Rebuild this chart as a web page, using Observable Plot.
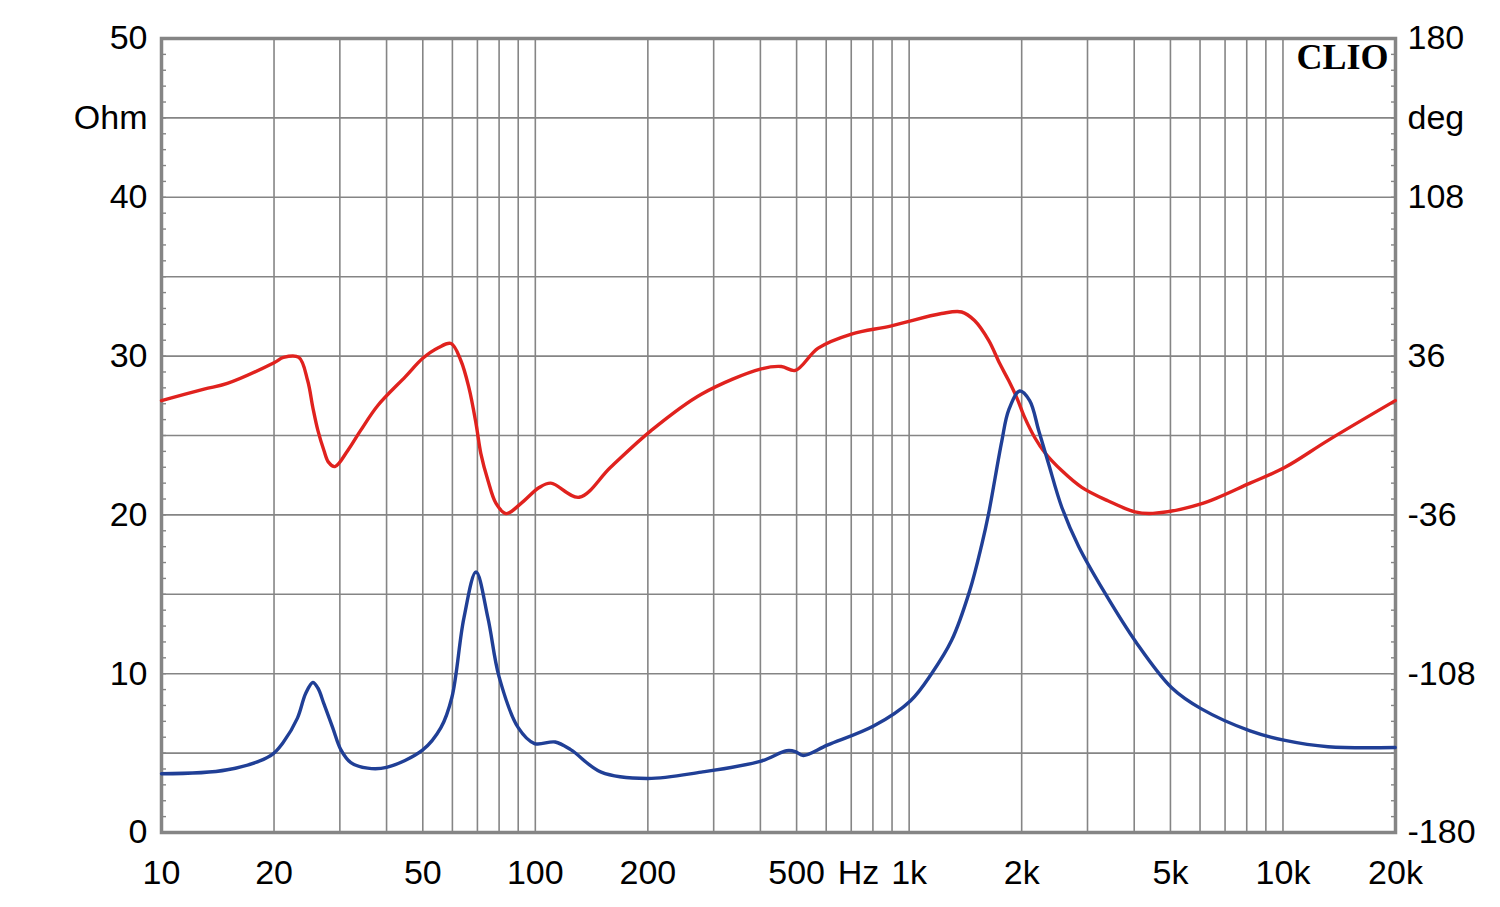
<!DOCTYPE html>
<html>
<head>
<meta charset="utf-8">
<script src="https://cdn.jsdelivr.net/npm/d3@7"></script>
<script src="https://cdn.jsdelivr.net/npm/@observablehq/plot@0.6"></script>
<style>
  html, body { margin: 0; padding: 0; background: #fff; }
  #chart { width: 1500px; height: 907px; }
</style>
</head>
<body>
<div id="chart"></div>
<script>
// Impedance magnitude (blue, left axis, Ohm)
const impFreq = [10, 15, 19.6, 21.2, 23.1, 24.3, 25.4, 26.2, 27.2, 28.7, 30.2, 32.1, 35.6, 40, 50, 55.9, 59.8, 64.4, 69.4, 74.7, 80, 90, 99.5, 113, 124.6, 150, 199, 278, 402, 470, 496, 521, 604, 803, 1009, 1148, 1299, 1451, 1563, 1632, 1768, 1846, 1976, 2101, 2222, 2355, 2559, 2843, 3317, 4042, 5047, 6035, 8165, 10130, 13205, 19970];
const impOhm  = [3.7, 3.95, 4.85, 5.7, 7.2, 8.75, 9.45, 9.1, 8.1, 6.6, 5.2, 4.4, 4.05, 4.1, 5.2, 6.6, 8.5, 13.5, 16.4, 13.5, 9.8, 6.6, 5.6, 5.7, 5.2, 3.8, 3.4, 3.8, 4.5, 5.15, 5.1, 4.85, 5.5, 6.7, 8.3, 10.0, 12.1, 15.2, 18.1, 20.1, 24.6, 26.6, 27.8, 27.2, 25.3, 23.3, 20.5, 18.0, 15.2, 12.0, 9.1, 7.8, 6.4, 5.8, 5.4, 5.35];

// Impedance phase (red, right axis, degrees)
const phaseFreq = [10, 13, 15, 20, 21.2, 23.3, 24.6, 25.4, 26.2, 27.2, 28.0, 29.1, 31.5, 34.1, 37.9, 45, 50, 55, 59.5, 63.2, 66.4, 69.4, 71.5, 74.7, 78.5, 83.5, 91.6, 102.4, 110, 131, 159, 204, 278, 402, 455, 496, 571, 701, 897, 1221, 1382, 1496, 1632, 1747, 1846, 1940, 2037, 2167, 2305, 2559, 2896, 3400, 4017, 4487, 6035, 8165, 10130, 13205, 19970];
const phaseDeg  = [15.8, 21, 23.6, 33, 35.4, 35.4, 24.9, 12.7, 2.3, -6.8, -12.2, -14.1, -6.8, 2.3, 13.6, 26.8, 35, 39.8, 41.7, 34, 21.8, 5.4, -8.2, -20.4, -30.8, -35.4, -30.8, -23.6, -21.6, -28, -14.4, 2.2, 18.7, 30.2, 31.3, 29.5, 39.6, 46, 49.7, 55.3, 56, 52.1, 43.1, 32.6, 24.9, 17.2, 8.2, -0.9, -7.7, -15.9, -23.5, -29.6, -34.6, -35.3, -31, -21.6, -14.4, -2.2, 15.8];

// Axes
const xTickValues = [10, 20, 50, 100, 200, 500, 1000, 2000, 5000, 10000, 20000];
const xTickLabels = ["10", "20", "50", "100", "200", "500", "1k", "2k", "5k", "10k", "20k"];
const yTicksOhm = [0, 10, 20, 30, 40, 50];
const yTicksDeg = [-180, -108, -36, 36, 108, 180];
const xGrid = [20,30,40,50,60,70,80,90,100,200,300,400,500,600,700,800,900,1000,2000,3000,4000,5000,6000,7000,8000,9000,10000];
const yGrid = [0,5,10,15,20,25,30,35,40,45,50];
const yMinor = d3.range(0, 51, 1);

// deg -> left-axis units (Ohm scale spans -180..180 deg)
const degToY = d => (d + 180) / 7.2;

const impData = impFreq.map((f, i) => ({f, v: impOhm[i]}));
const phaseData = phaseFreq.map((f, i) => ({f, v: phaseDeg[i]}));
const xLabelData = xTickValues.map((f, i) => ({f, t: xTickLabels[i]}));
const leftLabelData = yTicksOhm.map(v => ({v, t: String(v)}));
const rightLabelData = yTicksOhm.map((v, i) => ({v, t: String(yTicksDeg[i])}));

const GRID = "#858585";
const font = "Liberation Sans, Arial, Helvetica, sans-serif";

const chart = Plot.plot({
  width: 1500,
  height: 907,
  marginLeft: 161,
  marginRight: 105,
  marginTop: 38,
  marginBottom: 75,
  style: {fontFamily: font, background: "#fff", color: "#000"},
  x: {type: "log", domain: [10, 20000], axis: null},
  y: {domain: [0, 50], axis: null},
  marks: [
    Plot.gridX(xGrid, {stroke: GRID, strokeOpacity: 1, strokeWidth: 1.6}),
    Plot.gridY(yGrid, {stroke: GRID, strokeOpacity: 1, strokeWidth: 1.6}),
    Plot.axisY({anchor: "left", ticks: yMinor, tickSize: -5, tickFormat: () => "", label: null, stroke: GRID, strokeWidth: 1.4}),
    Plot.axisY({anchor: "right", ticks: yMinor, tickSize: -5, tickFormat: () => "", label: null, stroke: GRID, strokeWidth: 1.4}),
    Plot.text(leftLabelData, {x: 10, y: "v", text: "t", dx: -14, textAnchor: "end", fontSize: 34, fill: "#000"}),
    Plot.text(rightLabelData, {x: 20000, y: "v", text: "t", dx: 12, textAnchor: "start", fontSize: 34, fill: "#000"}),
    Plot.text(xLabelData, {x: "f", y: 0, text: "t", dy: 27, lineAnchor: "top", fontSize: 34, fill: "#000"}),
    Plot.text(["Ohm"], {x: 10, y: 45, text: d => d, dx: -14, textAnchor: "end", fontSize: 34, fill: "#000"}),
    Plot.text(["deg"], {x: 20000, y: 45, text: d => d, dx: 12, textAnchor: "start", fontSize: 34, fill: "#000"}),
    Plot.text(["Hz"], {x: 732, y: 0, text: d => d, dy: 27, lineAnchor: "top", fontSize: 34, fill: "#000"}),
    Plot.frame({stroke: GRID, strokeWidth: 3.5}),
    Plot.line(phaseData, {x: "f", y: d => degToY(d.v), stroke: "#e0221e", strokeWidth: 3.4, curve: "catmull-rom"}),
    Plot.line(impData, {x: "f", y: "v", stroke: "#203f96", strokeWidth: 3.4, curve: "catmull-rom"}),
    Plot.text(["CLIO"], {x: 20000, y: 50, text: d => d, dx: -7, dy: 5, lineAnchor: "top", textAnchor: "end",
      fontSize: 36, fontWeight: "bold", fontFamily: "Liberation Serif, Times New Roman, serif", fill: "#000"})
  ]
});
document.getElementById("chart").appendChild(chart);
</script>
</body>
</html>
